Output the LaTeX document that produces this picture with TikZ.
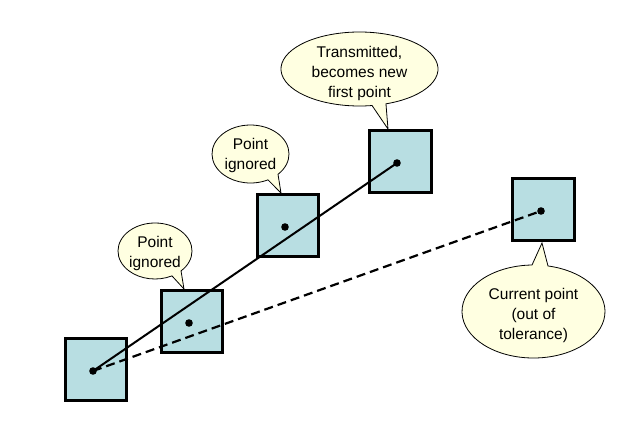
\documentclass[tikz,border=0pt]{standalone}
\usepackage{fontspec}
\setmainfont{Liberation Sans}
\definecolor{boxblue}{RGB}{184,222,226}
\definecolor{tipyellow}{RGB}{255,255,225}
\begin{document}
\begin{tikzpicture}[x=1pt,y=-1pt,
  ptbox/.style={draw=black,fill=boxblue,line width=3pt,minimum size=61.5pt,inner sep=0pt},
  ptdot/.style={fill=black},
  bubble/.style={draw=black,fill=tipyellow,line width=0.8pt,line join=miter},
  bubbletext/.style={align=center,inner sep=0pt,font=\fontsize{15.5}{20}\selectfont},
  solidline/.style={line width=2pt},
  dashline/.style={line width=2.2pt,dash pattern=on 9pt off 5pt}]
\useasboundingbox[fill=white] (0,0) rectangle (631,447);
% boxes
\node[ptbox] (A) at (95.75,369.5) {};
\node[ptbox] (B) at (192,321.5) {};
\node[ptbox] (C) at (288,225.5) {};
\node[ptbox] (D) at (400.5,161.5) {};
\node[ptbox] (E) at (543.5,209.5) {};
% point positions
\coordinate (pA) at (93,371);
\coordinate (pB) at (189,323);
\coordinate (pC) at (285,227);
\coordinate (pD) at (397,163);
\coordinate (pE) at (541,211);
% connectors
\draw[solidline] (pA) -- (pD);
\draw[dashline] (pA) -- (pE);
% dots
\foreach \p in {pA,pB,pC,pD,pE} \fill[ptdot] (\p) circle[radius=3.8pt];
% callout centres and tips
\coordinate (c1) at (359.5,69);
\coordinate (t1) at (388,129);
\coordinate (c2) at (250.5,154);
\coordinate (t2) at (281,193);
\coordinate (c3) at (155,251);
\coordinate (t3) at (184,289);
\coordinate (c4) at (533.5,311.5);
\coordinate (t4) at (542,243);
% callout shapes (y axis flipped: angles below centre are positive here)
\draw[bubble] (c1) ++(70.3:78.5 and 37) arc[start angle=70.3,end angle=-279.2,x radius=78.5,y radius=37] -- (t1) -- cycle;
\draw[bubble] (c2) ++(44.4:38.5 and 29) arc[start angle=44.4,end angle=-297,x radius=38.5,y radius=29] -- (t2) -- cycle;
\draw[bubble] (c3) ++(45.3:37 and 28) arc[start angle=45.3,end angle=-297.3,x radius=37,y radius=28] -- (t3) -- cycle;
\draw[bubble] (c4) ++(-91.2:71.5 and 46.5) arc[start angle=-91.2,end angle=-438.3,x radius=71.5,y radius=46.5] -- (t4) -- cycle;
% callout texts
\node[bubbletext] (l1) at (359.5,73.5) {Transmitted,\\becomes new\\first point};
\node[bubbletext] (l2) at (250.5,155) {Point\\ignored};
\node[bubbletext] (l3) at (155,253) {Point\\ignored};
\node[bubbletext] (l4) at (533.5,315) {Current point\\(out of\\tolerance)};
\end{tikzpicture}
\end{document}
